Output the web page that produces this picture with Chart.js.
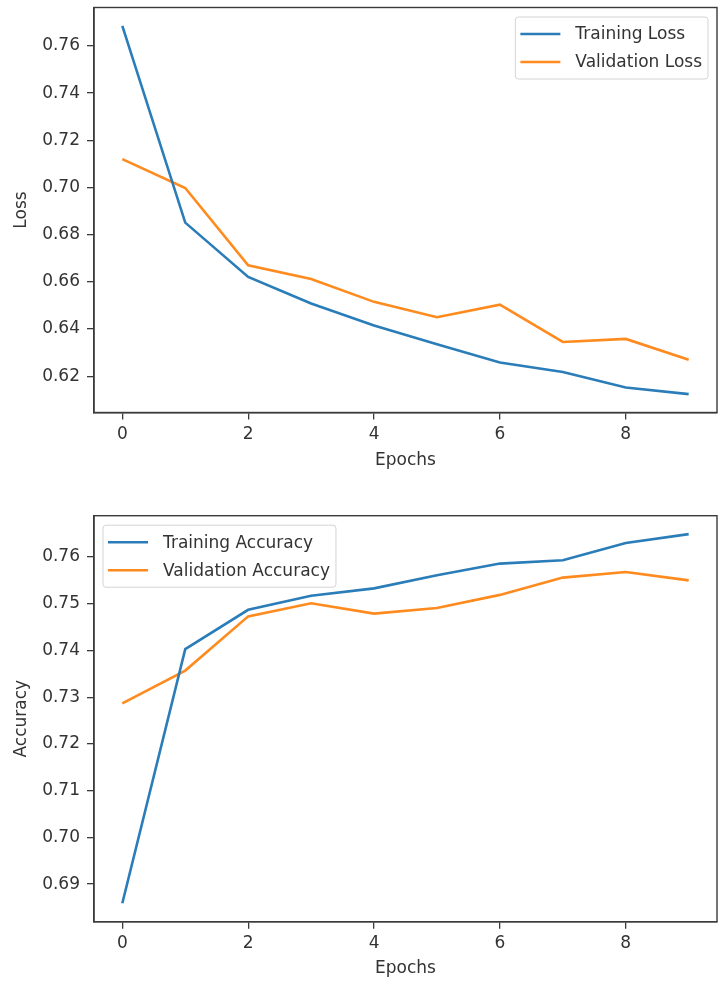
<!DOCTYPE html>
<html>
<head>
<meta charset="utf-8">
<script src="https://cdn.jsdelivr.net/npm/chart.js@4.4.1/dist/chart.umd.min.js"></script>
<style>
  html, body { margin: 0; padding: 0; background: #fff; }
  #lossChart { position: absolute; left: 0; top: 0; }
  #accChart { position: absolute; left: 0; top: 490px; }
</style>
</head>
<body>
<canvas id="lossChart" width="719" height="490"></canvas>
<canvas id="accChart" width="719" height="492"></canvas>
<script>
const epochs = [0, 1, 2, 3, 4, 5, 6, 7, 8, 9];
const trainLoss = [0.7685, 0.6851, 0.6621, 0.6508, 0.6415, 0.6335, 0.6258, 0.6218, 0.6152, 0.6124];
const valLoss = [0.7120, 0.6998, 0.6670, 0.6612, 0.6515, 0.6450, 0.6503, 0.6345, 0.6358, 0.6270];
const trainAcc = [0.6859, 0.7403, 0.7487, 0.7517, 0.7533, 0.7561, 0.7586, 0.7593, 0.7630, 0.7649];
const valAcc = [0.7287, 0.7357, 0.7473, 0.7501, 0.7479, 0.7491, 0.7519, 0.7556, 0.7568, 0.7550];

const FONT = '"DejaVu Sans", sans-serif';
const TEXT = '#333333';
const EDGE = '#3a3a3a';
const BLUE = '#2a7db8';
const ORANGE = '#ff8a1e';

// matplotlib-like frame around the plot and a boxed legend inside it
const frameLegend = {
  id: 'frameLegend',
  afterDraw(chart, args, opts) {
    const ctx = chart.ctx;
    const a = chart.chartArea;
    ctx.save();
    ctx.strokeStyle = EDGE;
    ctx.lineWidth = 1.4;
    ctx.strokeRect(a.left, a.top, a.right - a.left, a.bottom - a.top);

    ctx.font = '17px ' + FONT;
    const sets = chart.data.datasets;
    const textW = Math.max(...sets.map(d => ctx.measureText(d.label).width));
    const w = 5 + 40 + 15 + textW + 6;
    const h = 62;
    const x = opts.corner === 'right' ? a.right - 9 - w : a.left + 9;
    const y = a.top + 9.5;
    ctx.beginPath();
    ctx.roundRect(x, y, w, h, 3);
    ctx.fillStyle = 'rgba(255,255,255,0.8)';
    ctx.fill();
    ctx.strokeStyle = '#d4d4d4';
    ctx.lineWidth = 1;
    ctx.stroke();

    sets.forEach((d, i) => {
      const cy = y + 17 + i * 28;
      ctx.beginPath();
      ctx.moveTo(x + 5, cy);
      ctx.lineTo(x + 45, cy);
      ctx.strokeStyle = d.borderColor;
      ctx.lineWidth = 2.6;
      ctx.stroke();
      ctx.fillStyle = TEXT;
      ctx.textBaseline = 'middle';
      ctx.textAlign = 'left';
      ctx.fillText(d.label, x + 60, cy + 1);
    });
    ctx.restore();
  }
};

function makeChart(id, labels, series, yTitle, yStep, layout, corner) {
  const all = series.flat();
  const lo = Math.min(...all), hi = Math.max(...all);
  const pad = (hi - lo) * 0.05;
  const colors = [BLUE, ORANGE];

  return new Chart(id, {
    type: 'line',
    data: {
      datasets: series.map((s, i) => ({
        label: labels[i],
        data: s.map((v, k) => ({ x: epochs[k], y: v })),
        borderColor: colors[i],
        backgroundColor: colors[i],
        borderWidth: 2.6,
        pointRadius: 0,
        tension: 0,
        fill: false
      }))
    },
    options: {
      responsive: false,
      animation: false,
      layout: { padding: { top: layout.top, right: 2, left: 0, bottom: 0 } },
      plugins: {
        legend: { display: false },
        tooltip: { enabled: false },
        frameLegend: { corner: corner }
      },
      scales: {
        x: {
          type: 'linear',
          min: -0.45,
          max: 9.45,
          grid: { drawOnChartArea: false, drawTicks: true, tickLength: 7, color: EDGE, lineWidth: 1.3 },
          border: { display: true, color: EDGE, width: 1.4 },
          ticks: {
            stepSize: 2,
            includeBounds: false,
            padding: 5,
            color: TEXT,
            font: { family: FONT, size: 17 },
            callback: v => String(v)
          },
          title: {
            display: true,
            text: 'Epochs',
            color: TEXT,
            font: { family: FONT, size: 17 },
            padding: { top: 0, bottom: layout.xTitle }
          },
          afterFit(scale) {
            scale.height = layout.xHeight;
            scale.paddingLeft = 0;
            scale.paddingRight = 0;
          }
        },
        y: {
          min: lo - pad,
          max: hi + pad,
          grid: { drawOnChartArea: false, drawTicks: true, tickLength: 7, color: EDGE, lineWidth: 1.3 },
          border: { display: true, color: EDGE, width: 1.4 },
          ticks: {
            stepSize: yStep,
            includeBounds: false,
            padding: 7,
            color: TEXT,
            font: { family: FONT, size: 17 },
            callback: v => v.toFixed(2)
          },
          title: {
            display: true,
            text: yTitle,
            color: TEXT,
            font: { family: FONT, size: 17 },
            padding: { top: 11.5, bottom: 0 }
          },
          afterFit(scale) {
            scale.width = 94;
            scale.paddingTop = 0;
            scale.paddingBottom = 0;
          }
        }
      }
    },
    plugins: [frameLegend]
  });
}

makeChart('lossChart', ['Training Loss', 'Validation Loss'], [trainLoss, valLoss],
  'Loss', 0.02, { top: 7.5, xHeight: 77.5, xTitle: 18.8 }, 'right');

makeChart('accChart', ['Training Accuracy', 'Validation Accuracy'], [trainAcc, valAcc],
  'Accuracy', 0.01, { top: 25.7, xHeight: 60.3, xTitle: 2.8 }, 'left');
</script>
</body>
</html>
